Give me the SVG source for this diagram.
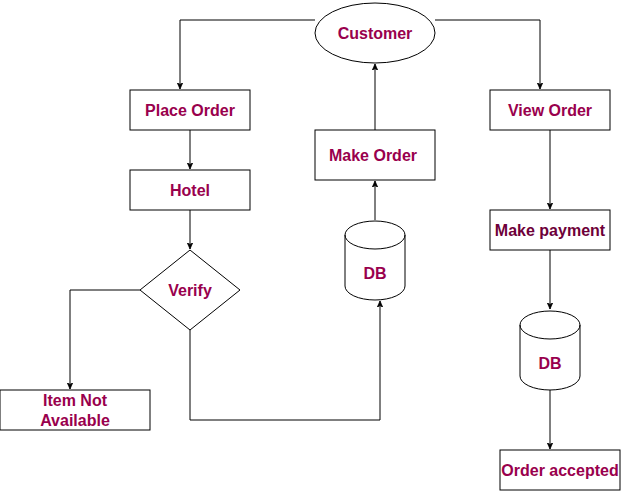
<svg xmlns="http://www.w3.org/2000/svg" width="621" height="491" viewBox="0 0 621 491">
<style>
.box{fill:#fff;stroke:#000;stroke-width:1}
.lbl{font-family:"Liberation Sans",Arial,sans-serif;font-weight:bold;font-size:16px;fill:#99004D;text-anchor:middle;dominant-baseline:central}
.edge{fill:none;stroke:#000;stroke-width:1}
</style>
<defs>
<marker id="ah" viewBox="0 0 10 10" refX="9" refY="5" markerWidth="7" markerHeight="7" orient="auto" markerUnits="userSpaceOnUse">
<path d="M0,1 L9,5 L0,9 L2.5,5 Z" fill="#000" stroke="#000" stroke-width="1"/>
</marker>
</defs>
<rect width="621" height="491" fill="#fff"/>
<g id="connectors">
<path class="edge" d="M315,20 H180 V89" marker-end="url(#ah)"/>
<path class="edge" d="M435,20 H540 V89" marker-end="url(#ah)"/>
<path class="edge" d="M190,130 V169" marker-end="url(#ah)"/>
<path class="edge" d="M190,210 V249" marker-end="url(#ah)"/>
<path class="edge" d="M140,290 H70 V389" marker-end="url(#ah)"/>
<path class="edge" d="M190,330 V420 H380 V301" marker-end="url(#ah)"/>
<path class="edge" d="M375,220 V181" marker-end="url(#ah)"/>
<path class="edge" d="M375,130 V64" marker-end="url(#ah)"/>
<path class="edge" d="M550,130 V209" marker-end="url(#ah)"/>
<path class="edge" d="M550,250 V309" marker-end="url(#ah)"/>
<path class="edge" d="M550,390 V449" marker-end="url(#ah)"/>
</g>
<g id="customer">
<ellipse class="box" cx="375" cy="33" rx="60" ry="30"/>
<text class="lbl" x="375" y="33">Customer</text>
</g>
<g id="place-order">
<rect class="box" x="130" y="90" width="120" height="40"/>
<text class="lbl" x="190" y="110">Place Order</text>
</g>
<g id="hotel">
<rect class="box" x="130" y="170" width="120" height="40"/>
<text class="lbl" x="190" y="190">Hotel</text>
</g>
<g id="verify">
<polygon class="box" points="190,250 240,290 190,330 140,290"/>
<text class="lbl" x="190" y="290">Verify</text>
</g>
<g id="item-not-available">
<rect class="box" x="0" y="390" width="150" height="40"/>
<text class="lbl" x="75" y="400">Item Not</text>
<text class="lbl" x="75" y="420">Available</text>
</g>
<g id="make-order">
<rect class="box" x="315" y="130" width="120" height="50"/>
<text class="lbl" x="373" y="155">Make Order</text>
</g>
<g id="db1">
<path class="box" d="M345,235 A30,14 0 0 1 405,235 V286 A30,14 0 0 1 345,286 Z"/>
<path class="edge" d="M345,235 A30,14 0 0 0 405,235"/>
<text class="lbl" x="375" y="273">DB</text>
</g>
<g id="view-order">
<rect class="box" x="490" y="90" width="120" height="40"/>
<text class="lbl" x="550" y="110">View Order</text>
</g>
<g id="make-payment">
<rect class="box" x="490" y="210" width="120" height="40"/>
<text class="lbl" x="550" y="230" style="fill:#6E0039">Make payment</text>
</g>
<g id="db2">
<path class="box" d="M520,325 A30,14 0 0 1 580,325 V376 A30,14 0 0 1 520,376 Z"/>
<path class="edge" d="M520,325 A30,14 0 0 0 580,325"/>
<text class="lbl" x="550" y="363">DB</text>
</g>
<g id="order-accepted">
<rect class="box" x="500" y="450" width="120" height="40"/>
<text class="lbl" x="560" y="470">Order accepted</text>
</g>
</svg>
